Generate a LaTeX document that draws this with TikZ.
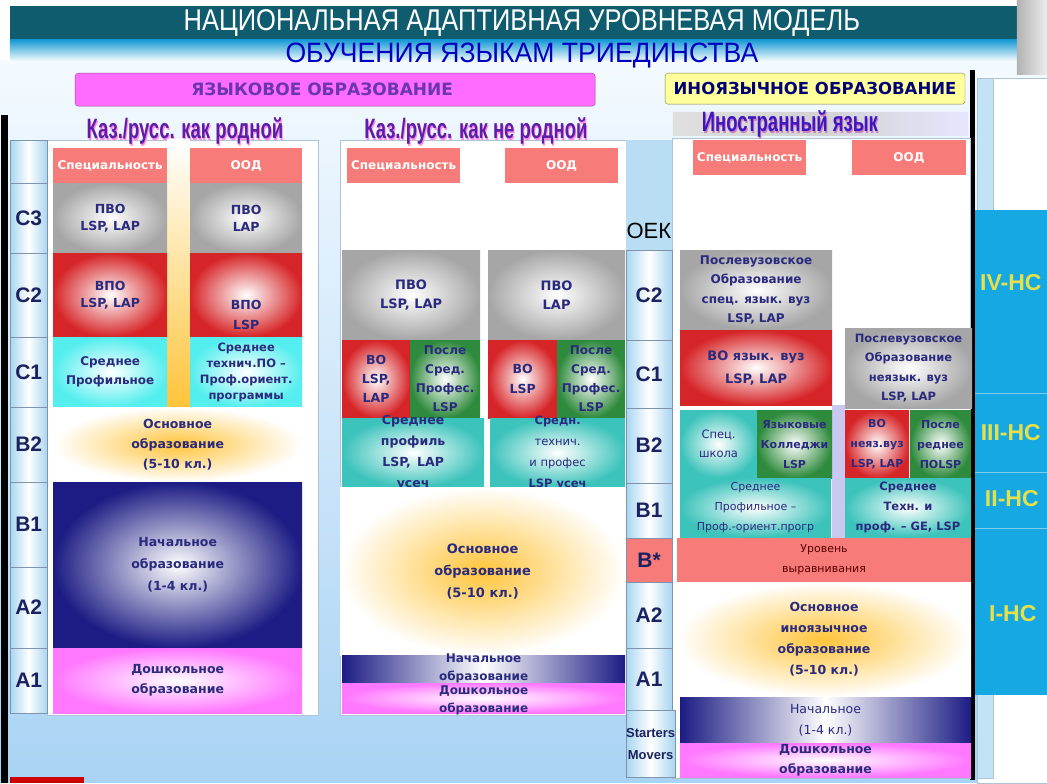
\documentclass[tikz,border=0pt]{standalone}
\usepackage{fontspec}
\setmainfont{DejaVu Sans}
\newfontfamily\titlefont[FakeStretch=0.85]{Liberation Sans}
\newfontfamily\subtitlefont[FakeStretch=0.95]{Liberation Sans}
\newfontfamily\narrowfont[FakeStretch=0.66]{Liberation Sans}
\newfontfamily\levelfont{Liberation Sans}
\usetikzlibrary{positioning}

\definecolor{titleteal}{HTML}{0F5C6E}
\definecolor{stripeblue}{HTML}{1B9BD5}
\definecolor{slidetop}{HTML}{F4FAFF}
\definecolor{slidebot}{HTML}{A9D3F4}
\definecolor{salmon}{HTML}{F77B78}
\definecolor{boxgrey}{HTML}{A6A6A6}
\definecolor{boxred}{HTML}{D62528}
\definecolor{boxgreen}{HTML}{2E8A3C}
\definecolor{boxcyan}{HTML}{55EEEE}
\definecolor{boxteal}{HTML}{3CC3BB}
\definecolor{boxnavy}{HTML}{1C1C84}
\definecolor{boxpink}{HTML}{FF78FF}
\definecolor{glow}{HTML}{FFC43A}
\definecolor{txtnavy}{HTML}{2A2A7E}
\definecolor{panelline}{HTML}{AFC3D6}
\definecolor{cellline}{HTML}{7F93AC}
\definecolor{cellblue}{HTML}{A8D6F0}
\definecolor{lvltext}{HTML}{1B2260}
\definecolor{lvlblue}{HTML}{15A8E3}
\definecolor{lvlyellow}{HTML}{E6E04A}
\definecolor{headpurple}{HTML}{5A1FA6}
\definecolor{headpink}{HTML}{FF8AE6}
\definecolor{magbox}{HTML}{FF6CFF}
\definecolor{yelbox}{HTML}{FFFF9C}
\definecolor{lavender}{HTML}{C8C8F0}

\begin{document}
\begin{tikzpicture}[x=1pt, y=-1pt,
  box/.style={anchor=north west, inner sep=1pt, align=center, text=txtnavy,
              font=\bfseries\fontsize{12.5}{17}\selectfont},
  sz/.style 2 args={minimum width=#1, minimum height=#2},
  salmonbox/.style={box, fill=salmon, text=white, font=\bfseries\fontsize{12}{14}\selectfont},
  greybox/.style={box, inner color=white, outer color=boxgrey},
  redbox/.style={box, inner color=white, outer color=boxred},
  greenbox/.style={box, inner color=white, outer color=boxgreen},
  cyanbox/.style={box, inner color=white, outer color=boxcyan},
  tealbox/.style={box, inner color=white, outer color=boxteal},
  navybox/.style={box, inner color=white, outer color=boxnavy},
  navybar/.style={box, left color=boxnavy, right color=boxnavy, middle color=white},
  pinkbox/.style={box, inner color=white, outer color=boxpink},
  glowbox/.style={box, inner color=glow, outer color=white},
  txt/.style={align=center, text=txtnavy, inner sep=0pt,
              font=\bfseries\fontsize{12.5}{17}\selectfont},
  panel/.style={anchor=north west, draw=panelline, fill=white, inner sep=0pt},
  cellbase/.style={anchor=north west, draw=cellline, inner sep=0pt,
               text=lvltext, font=\levelfont\bfseries\fontsize{21}{21}\selectfont},
  cell/.style={cellbase, left color=cellblue, right color=cellblue, middle color=white},
  subhead/.style={font=\narrowfont\bfseries\fontsize{28}{28}\selectfont},
  lvl/.style={text=lvlyellow, font=\levelfont\bfseries\fontsize{23}{23}\selectfont},
]

% ---- slide background and title ---------------------------------------
\path[top color=slidetop, bottom color=slidebot] (0,60) rectangle (1047,783);
\fill[white] (0,0) rectangle (1047,60);
\fill[titleteal] (10,6) rectangle (1017,40);
\path[top color=stripeblue, bottom color=white] (10,40) rectangle (1017,62);
\path[left color=gray!60, right color=gray!15] (1017,0) rectangle (1047,75);
\fill[black] (1,115) rectangle (8,783);
\fill[red!80!black] (10,777) rectangle (84,783);

\node[text=white, font=\titlefont\fontsize{30}{30}\selectfont] (title)
  at (522,23) {НАЦИОНАЛЬНАЯ АДАПТИВНАЯ УРОВНЕВАЯ МОДЕЛЬ};
\node[text=blue!75!black, font=\subtitlefont\fontsize{28}{28}\selectfont] (subtitle)
  at (522,56) {ОБУЧЕНИЯ ЯЗЫКАМ ТРИЕДИНСТВА};

% ---- group headers ----------------------------------------------------
\node[anchor=north west, sz={520}{33}, fill=magbox, draw=magbox!60!black,
      rounded corners=3pt] (lang) at (75,73) {};
\node[text=headpurple!90, font=\bfseries\fontsize{17}{17}\selectfont]
  at ([xshift=-13]lang.center) {ЯЗЫКОВОЕ ОБРАЗОВАНИЕ};
\node[anchor=north west, sz={300}{31}, fill=yelbox, draw=yelbox!50!black,
      rounded corners=3pt, text=blue!45!black, inner sep=1pt,
      font=\bfseries\fontsize{16.5}{16.5}\selectfont] (foreign) at (665,73)
  {ИНОЯЗЫЧНОЕ ОБРАЗОВАНИЕ};

% ---- right edge frame and black rule -----------------------------------
\fill[white, draw=panelline] (977,78) rectangle (1047,783);
\fill[cellblue!70, draw=panelline] (977,78) rectangle (993,778);
\fill[black] (970,70) rectangle (975,780);

% ---- panels -----------------------------------------------------------
\node[panel, sz={271}{575}] (natpanel) at (47,140) {};
\node[panel, sz={286}{575}] (nonpanel) at (340,140) {};
\node[panel, sz={298}{640}] (forpanel) at (672,138) {};
\fill[cellblue!80] (626,140) rectangle (672,250);

% ---- panel headings -----------------------------------------------------
\fill[left color=gray!25, right color=blue!10, middle color=gray!35]
  (673,113) rectangle (968,136);
\node[subhead, text=headpink] at (186,133) {Каз./русс. как родной};
\node[subhead, text=headpurple] (nathead) at (185,131) {Каз./русс. как родной};
\node[subhead, text=headpink] at (477,133) {Каз./русс. как не родной};
\node[subhead, text=headpurple] (nonhead) at (476,131) {Каз./русс. как не родной};
\node[subhead, text=headpink!60!gray] at (791,126) {Иностранный язык};
\node[subhead, text=headpurple!70!blue] (forhead) at (790,124) {Иностранный язык};

% ---- level ladder, left -------------------------------------------------
\node[cell, sz={37}{43}] (lv0) at (10,140) {};
\node[cell, sz={37}{70}] (lc3) at (10,183) {C3};
\node[cell, sz={37}{84}] (lc2) at (10,253) {C2};
\node[cell, sz={37}{70}] (lc1) at (10,337) {C1};
\node[cell, sz={37}{75}] (lb2) at (10,407) {B2};
\node[cell, sz={37}{85}] (lb1) at (10,482) {B1};
\node[cell, sz={37}{81}] (la2) at (10,567) {A2};
\node[cell, sz={37}{65}] (la1) at (10,648) {A1};

% ---- native language column --------------------------------------------
\path[top color=white, bottom color=glow] (167,140) rectangle (190,407);
\node[salmonbox, sz={114}{35}] (spec1) at (53,148) {Специальность};
\node[salmonbox, sz={112}{35}] (ood1) at (190,148) {ООД};
\node[greybox, sz={114}{70}] (pvo1) at (53,183) {ПВО\\LSP, LAP};
\node[greybox, sz={112}{70}] (pvo2) at (190,183) {ПВО\\LAP};
\node[redbox, sz={114}{84}] (vpo1) at (53,253) {ВПО\\LSP, LAP};
\node[redbox, sz={112}{84}] (vpo2) at (190,253) {};
\node[txt, font=\bfseries\fontsize{12.5}{20}\selectfont] at ([yshift=-20]vpo2.center) {ВПО\\LSP};
\node[cyanbox, sz={114}{70}, font=\bfseries\fontsize{12}{19}\selectfont] (sred1)
  at (53,337) {Среднее\\Профильное};
\node[cyanbox, sz={112}{70}, font=\bfseries\fontsize{11.5}{16}\selectfont] (sred2)
  at (190,337) {Среднее\\технич.ПО –\\Проф.ориент.\\программы};
\node[glowbox, sz={249}{75}, font=\bfseries\fontsize{12.5}{20}\selectfont] (osn1)
  at (53,407) {Основное\\образование\\(5-10 кл.)};
\node[navybox, sz={249}{166}, font=\bfseries\fontsize{12.5}{22}\selectfont] (nach1)
  at (53,482) {Начальное\\образование\\(1-4 кл.)};
\node[pinkbox, sz={249}{65}, font=\bfseries\fontsize{12.5}{20}\selectfont] (dosh1)
  at (53,648) {Дошкольное\\образование};

% ---- non-native language column ----------------------------------------
\node[salmonbox, sz={113}{35}] (spec2) at (347,148) {Специальность};
\node[salmonbox, sz={113}{35}] (ood2) at (505,148) {ООД};
\node[greybox, sz={138}{90}, font=\bfseries\fontsize{13}{19}\selectfont] (pvo3)
  at (342,250) {ПВО\\LSP, LAP};
\node[greybox, sz={137}{90}, font=\bfseries\fontsize{13}{19}\selectfont] (pvo4)
  at (488,250) {ПВО\\LAP};
\node[redbox, sz={68}{78}, font=\bfseries\fontsize{12.5}{19}\selectfont] (vo1)
  at (342,340) {ВО\\LSP,\\LAP};
\node[greenbox, sz={70}{78}, font=\bfseries\fontsize{12}{19}\selectfont] (posle1)
  at (410,340) {После\\Сред.\\Профес.\\LSP};
\node[redbox, sz={69}{78}, font=\bfseries\fontsize{12.5}{20}\selectfont] (vo2)
  at (488,340) {ВО\\LSP};
\node[greenbox, sz={68}{78}, font=\bfseries\fontsize{12}{19}\selectfont] (posle2)
  at (557,340) {После\\Сред.\\Профес.\\LSP};
\node[tealbox, sz={142}{69}] (sprof) at (342,418) {};
\node[txt, font=\bfseries\fontsize{12.5}{21}\selectfont] at (sprof.center)
  {Среднее\\профиль\\LSP,\enspace LAP\\усеч};
\node[tealbox, sz={135}{69}] (steh) at (490,418) {};
\node[txt, font=\fontsize{11.5}{21}\selectfont] at (steh.center)
  {\textbf{Средн.}\\технич.\\и профес\\\textbf{LSP усеч}};
\node[glowbox, sz={285}{168}, font=\bfseries\fontsize{13}{22}\selectfont] (osn2)
  at (340,487) {Основное\\образование\\(5-10 кл.)};
\node[navybar, sz={283}{28}] (nach2) at (342,655) {};
\node[pinkbox, sz={283}{30}] (dosh2) at (342,683) {};
\node[txt, font=\bfseries\fontsize{12}{18}\selectfont] at ([yshift=1]nach2.center)
  {Начальное\\образование};
\node[txt, font=\bfseries\fontsize{12}{18}\selectfont] at ([yshift=-2]dosh2.center)
  {Дошкольное\\образование};

% ---- common level scale (OEK) --------------------------------------------
\node[font=\levelfont\fontsize{22}{22}\selectfont] (oek) at (649,231) {ОЕК};
\node[cell, sz={46}{90}] (oc2) at (626,250) {C2};
\node[cell, sz={46}{68}] (oc1) at (626,340) {C1};
\node[cell, sz={46}{75}] (ob2) at (626,408) {B2};
\node[cell, sz={46}{55}] (ob1) at (626,483) {B1};
\node[cellbase, sz={46}{44}, fill=salmon] (obs) at (626,538) {B*};
\node[cell, sz={46}{66}] (oa2) at (626,582) {A2};
\node[cell, sz={46}{62}] (oa1) at (626,648) {A1};
\node[cell, sz={46}{67}, font=\levelfont\bfseries\fontsize{13}{22}\selectfont,
      align=center] (ostart) at (626,710) {Starters\\Movers};

% ---- foreign language column --------------------------------------------
\node[salmonbox, sz={113}{35}] (spec3) at (693,140) {Специальность};
\node[salmonbox, sz={114}{35}] (ood3) at (852,140) {ООД};
\node[greybox, sz={152}{80}, font=\bfseries\fontsize{12}{19.5}\selectfont] (pv1)
  at (680,250) {Послевузовское\\Образование\\спец. язык. вуз\\LSP, LAP};
\node[redbox, sz={152}{75}, font=\bfseries\fontsize{13}{23}\selectfont] (vo3)
  at (680,330) {ВО язык. вуз\\LSP, LAP};
\node[greybox, sz={127}{80}, font=\bfseries\fontsize{11.5}{19.5}\selectfont] (pv2)
  at (845,328) {Послевузовское\\Образование\\неязык. вуз\\LSP, LAP};
\fill[lavender] (832,405) rectangle (845,538);
\node[tealbox, sz={77}{68}, font=\fontsize{11.5}{19}\selectfont] (shkola)
  at (680,410) {Спец.\\школа};
\node[greenbox, sz={75}{68}, font=\bfseries\fontsize{11}{20}\selectfont] (koll)
  at (757,410) {Языковые\\Колледжи\\LSP};
\node[redbox, sz={64}{68}, font=\bfseries\fontsize{11}{20}\selectfont] (vo4)
  at (845,410) {ВО\\неяз.вуз\\LSP, LAP};
\node[greenbox, sz={61}{68}, font=\bfseries\fontsize{11}{20}\selectfont] (posle3)
  at (910,410) {После\\реднее\\ПОLSP};
\node[tealbox, sz={151}{59}, font=\fontsize{11}{20}\selectfont] (sred3)
  at (680,478) {Среднее\\Профильное –\\Проф.-ориент.прогр};
\node[tealbox, sz={126}{59}, font=\bfseries\fontsize{11.5}{20}\selectfont] (sred4)
  at (845,478) {Среднее\\Техн. и\\проф. – GE, LSP};
\node[salmonbox, sz={294}{44}, text=red!35!black,
      font=\fontsize{11}{20}\selectfont] (urov) at (677,538)
  {Уровень\\выравнивания};
\node[glowbox, sz={294}{115}, font=\bfseries\fontsize{12.5}{21}\selectfont] (osn3)
  at (677,582) {Основное\\иноязычное\\образование\\(5-10 кл.)};
\node[navybar, sz={291}{46}, font=\fontsize{12.5}{21}\selectfont] (nach3)
  at (680,697) {Начальное\\(1-4 кл.)};
\node[pinkbox, sz={291}{34}] (dosh3) at (680,743) {};
\node[txt, font=\bfseries\fontsize{12.5}{20}\selectfont] at (dosh3.center)
  {Дошкольное\\образование};

% ---- national levels band -----------------------------------------------
\fill[lvlblue] (975,210) rectangle (1047,695);
\draw[lvlblue!55!white] (975,393) -- (1047,393) (975,472) -- (1047,472)
  (975,528) -- (1047,528);
\node[lvl] (ns4) at (1011,283) {IV-НС};
\node[lvl] (ns3) at (1011,433) {III-НС};
\node[lvl] (ns2) at (1012,499) {II-НС};
\node[lvl] (ns1) at (1013,614) {I-НС};

\end{tikzpicture}
\end{document}
